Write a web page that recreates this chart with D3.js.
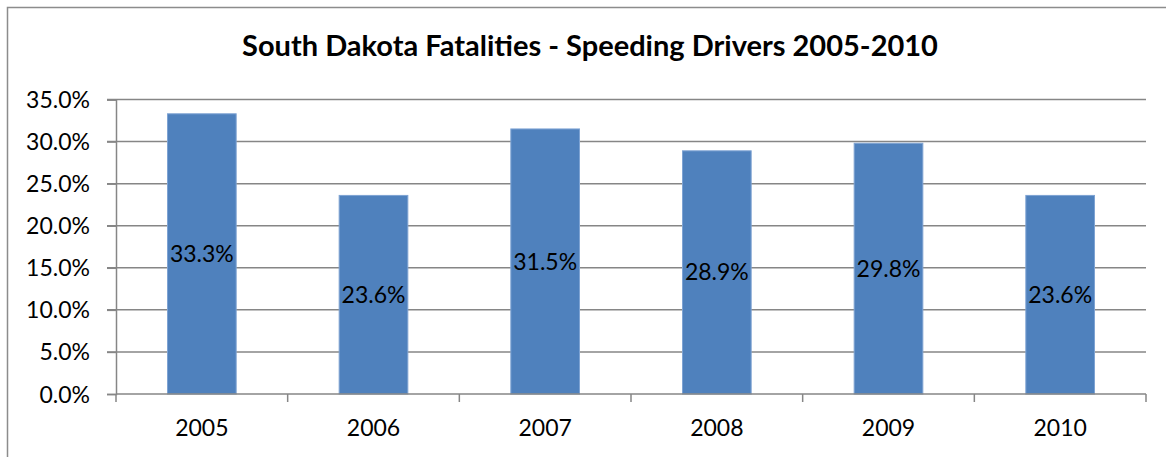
<!DOCTYPE html>
<meta charset="utf-8">
<style>
body { margin: 0; background: #fff; }
text { font-family: Lato, "Open Sans", sans-serif; fill: #000; }
.grid line { stroke: #868686; stroke-width: 1.5px; }
.axis path, .axis line { stroke: #868686; stroke-width: 1.5px; }
</style>
<svg width="1166" height="457" id="chart"></svg>
<script src="https://d3js.org/d3.v7.min.js"></script>
<script>

var years = ["2005", "2006", "2007", "2008", "2009", "2010"];
var speeding = [33.3, 23.6, 31.5, 28.9, 29.8, 23.6];
var yTicks = [0, 5, 10, 15, 20, 25, 30, 35];
var title = "South Dakota Fatalities - Speeding Drivers 2005-2010";

var svg = d3.select("#chart");

// outer chart border
svg.append("rect")
    .attr("x", 7.5).attr("y", 7.5)
    .attr("width", 1170).attr("height", 460)
    .attr("fill", "none")
    .attr("stroke", "#8c8c8c")
    .attr("stroke-width", 1.5);

var plotL = 116, plotR = 1146, plotT = 99.5, plotB = 394;

var x = d3.scaleBand().domain(years).range([plotL, plotR]).paddingInner(0.6).paddingOuter(0.3);
var xOuter = d3.scaleBand().domain(years).range([plotL, plotR]);
var y = d3.scaleLinear().domain([0, 35]).range([plotB, plotT]);

svg.append("text")
    .attr("x", 590).attr("y", 56)
    .attr("text-anchor", "middle")
    .style("font-size", "29px")
    .style("font-weight", "bold")
    .text(title);

// gridlines
svg.append("g").attr("class", "grid")
  .selectAll("line")
  .data(yTicks.slice(1))
  .enter().append("line")
    .attr("x1", plotL - 9).attr("x2", plotR)
    .attr("y1", function(d) { return y(d); })
    .attr("y2", function(d) { return y(d); });

// y axis
var yAxis = svg.append("g").attr("class", "axis")
    .attr("transform", "translate(" + plotL + ",0)")
    .call(d3.axisLeft(y).tickValues(yTicks).tickSize(9).tickPadding(17)
      .tickFormat(function(d) { return d.toFixed(1) + "%"; }));
yAxis.selectAll("text").style("font-size", "23px").attr("dy", "0.35em");

// bars
svg.append("g")
  .selectAll("rect")
  .data(speeding)
  .enter().append("rect")
    .attr("x", function(d, i) { return x(years[i]); })
    .attr("y", function(d) { return y(d); })
    .attr("width", x.bandwidth())
    .attr("height", function(d) { return plotB - y(d); })
    .attr("fill", "#4f81bd")
    .attr("stroke", "#7ea3d3")
    .attr("stroke-width", 1);

// value labels
svg.append("g")
  .selectAll("text")
  .data(speeding)
  .enter().append("text")
    .attr("x", function(d, i) { return x(years[i]) + x.bandwidth() / 2; })
    .attr("y", function(d) { return (y(d) + plotB) / 2; })
    .attr("dy", "0.35em")
    .attr("text-anchor", "middle")
    .style("font-size", "23px")
    .text(function(d) { return d.toFixed(1) + "%"; });

// x axis with ticks at category boundaries
var xAxis = svg.append("g").attr("class", "axis")
    .attr("transform", "translate(0," + plotB + ")");
xAxis.append("line")
    .attr("x1", plotL).attr("x2", plotR);
xAxis.selectAll(".tk")
  .data(years.concat(["end"]))
  .enter().append("line")
    .attr("class", "tk")
    .attr("x1", function(d, i) { return plotL + i * xOuter.bandwidth(); })
    .attr("x2", function(d, i) { return plotL + i * xOuter.bandwidth(); })
    .attr("y1", 0).attr("y2", 8);
xAxis.selectAll("text")
  .data(years)
  .enter().append("text")
    .attr("x", function(d) { return xOuter(d) + xOuter.bandwidth() / 2; })
    .attr("y", 42)
    .attr("text-anchor", "middle")
    .style("font-size", "23px")
    .text(function(d) { return d; });

</script>
